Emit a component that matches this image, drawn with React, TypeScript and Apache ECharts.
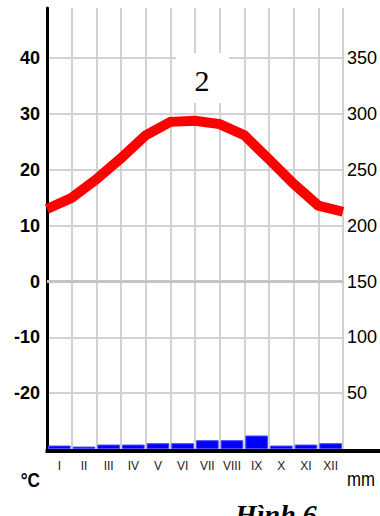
import React, { useEffect, useRef } from "react";
import * as echarts from "echarts";

// Month categories (bars) and month boundaries (temperature vertices)
const months = ["I", "II", "III", "IV", "V", "VI", "VII", "VIII", "IX", "X", "XI", "XII"];
const boundaries = ["b0", "b1", "b2", "b3", "b4", "b5", "b6", "b7", "b8", "b9", "b10", "b11", "b12"];

// Precipitation (mm), right axis
const precipitation = [3.1, 2.2, 4.0, 4.0, 5.2, 5.2, 7.9, 7.9, 12.1, 3.1, 4.0, 5.2];

// Temperature (°C) at month boundaries, left axis
const temperature = [13.0, 15.0, 18.3, 22.1, 26.2, 28.6, 28.8, 28.2, 26.2, 21.9, 17.5, 13.6, 12.5];

// Axis ranges
const tempMin = -30;
const tempMax = 49;
const tempInterval = 10;
const rainMin = 0;
const rainMax = 395;
const rainInterval = 50;

const SANS = "'Liberation Sans', Arial, sans-serif";
const SERIF = "'Liberation Serif', 'Times New Roman', serif";

export default function App() {
  const ref = useRef<HTMLDivElement>(null);

  useEffect(() => {
    if (!ref.current) return;
    const chart = echarts.init(ref.current, null, { renderer: "svg" });
    const gridLine = { color: "#d2d2d2", width: 2 };
    chart.setOption({
      animation: false,
      backgroundColor: "#ffffff",
      grid: { left: 47, right: 36, top: 8, bottom: 67, containLabel: false },
      xAxis: [
        {
          type: "category",
          data: months,
          boundaryGap: true,
          axisLine: { show: false },
          axisTick: { show: false },
          axisLabel: {
            interval: 0,
            margin: 11,
            fontSize: 12,
            fontFamily: SANS,
            color: "#222222",
          },
          splitLine: { show: true, interval: 0, lineStyle: gridLine },
        },
        {
          type: "category",
          data: boundaries,
          boundaryGap: false,
          show: false,
        },
      ],
      yAxis: [
        {
          type: "value",
          position: "left",
          min: tempMin,
          max: tempMax,
          interval: tempInterval,
          axisLine: { show: true, lineStyle: { color: "#000000", width: 3 } },
          axisTick: { show: false },
          axisLabel: {
            showMinLabel: false,
            showMaxLabel: false,
            margin: 7,
            fontSize: 18,
            fontWeight: "bold",
            fontFamily: SANS,
            color: "#000000",
          },
          splitLine: { show: true, showMinLine: false, showMaxLine: false, lineStyle: gridLine },
        },
        {
          type: "value",
          position: "right",
          min: rainMin,
          max: rainMax,
          interval: rainInterval,
          axisLine: { show: false },
          axisTick: { show: false },
          axisLabel: {
            showMinLabel: false,
            showMaxLabel: false,
            margin: 4,
            fontSize: 18,
            fontFamily: SANS,
            color: "#000000",
          },
          splitLine: { show: false },
        },
      ],
      series: [
        {
          type: "bar",
          xAxisIndex: 0,
          yAxisIndex: 1,
          data: precipitation,
          barCategoryGap: "8%",
          itemStyle: { color: "#0000ff", borderColor: "#4a4aff", borderWidth: 1 },
        },
        {
          type: "line",
          xAxisIndex: 1,
          yAxisIndex: 0,
          data: temperature,
          symbol: "none",
          lineStyle: { color: "#ff0000", width: 10, cap: "butt", join: "miter" },
          markLine: {
            silent: true,
            symbol: ["none", "none"],
            label: { show: false },
            lineStyle: { color: "#c4c4c4", width: 3, type: "solid" },
            data: [{ yAxis: 0 }],
          },
          z: 5,
        },
      ],
      graphic: [
        {
          type: "rect",
          z: 100,
          shape: { x: 45.5, y: 449, width: 334.5, height: 4 },
          style: { fill: "#000000" },
        },
        {
          type: "rect",
          z: 100,
          shape: { x: 176, y: 53, width: 53, height: 50 },
          style: { fill: "#ffffff" },
        },
        {
          type: "text",
          z: 101,
          x: 202,
          y: 80,
          style: {
            text: "2",
            font: "30px " + SERIF,
            fill: "#000000",
            textAlign: "center",
            textVerticalAlign: "middle",
          },
        },
        {
          type: "text",
          z: 101,
          x: 40,
          y: 480,
          scaleX: 0.82,
          style: {
            text: "°C",
            font: "bold 21px " + SANS,
            fill: "#000000",
            textAlign: "right",
            textVerticalAlign: "middle",
          },
        },
        {
          type: "text",
          z: 101,
          x: 347,
          y: 479,
          scaleX: 0.8,
          style: {
            text: "mm",
            font: "21px " + SANS,
            fill: "#000000",
            textAlign: "left",
            textVerticalAlign: "middle",
          },
        },
        {
          type: "text",
          z: 101,
          x: 235,
          y: 500,
          style: {
            text: "Hình 6",
            font: "italic bold 28px " + SERIF,
            fill: "#000000",
            textAlign: "left",
            textVerticalAlign: "top",
          },
        },
      ],
    });
    return () => chart.dispose();
  }, []);

  return (
    <div
      ref={ref}
      style={{ position: "fixed", left: 0, top: 0, width: 380, height: 516, background: "#fff" }}
    />
  );
}
